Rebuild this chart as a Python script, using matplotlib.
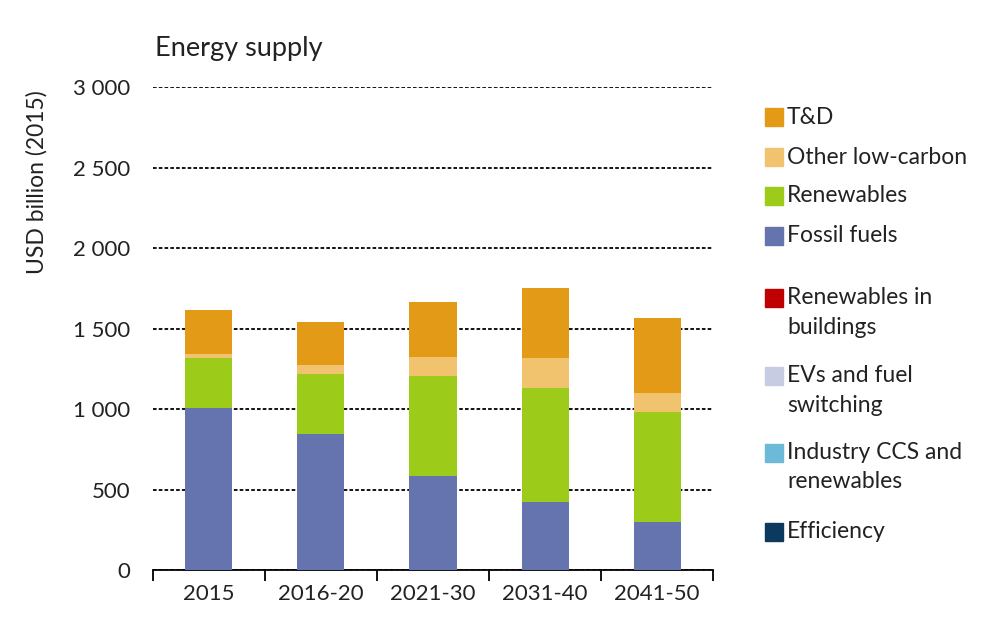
import matplotlib
matplotlib.use('Agg')
import matplotlib.pyplot as plt
import numpy as np
from matplotlib.ticker import FuncFormatter, FixedLocator
from matplotlib.patches import Rectangle

plt.rcParams['font.family'] = ['Lato', 'DejaVu Sans']
plt.rcParams['text.color'] = '#222222'

# data (USD billion, 2015)
periods = ['2015', '2016-20', '2021-30', '2031-40', '2041-50']
fossil = [1010, 848, 585, 420, 300]
renewables = [310, 372, 618, 712, 682]
other_lc = [22, 57, 120, 183, 118]
t_and_d = [273, 266, 340, 440, 464]

stack_names = ['Fossil fuels', 'Renewables', 'Other low-carbon', 'T&D']
stack_colors = ['#6574AE', '#9CCB19', '#F2C36F', '#E39A17']

legend_names = ['T&D', 'Other low-carbon', 'Renewables', 'Fossil fuels',
                'Renewables in\nbuildings', 'EVs and fuel\nswitching',
                'Industry CCS and\nrenewables', 'Efficiency']
legend_colors = ['#E39A17', '#F2C36F', '#9CCB19', '#6574AE',
                 '#C00000', '#C8CCE3', '#6CBAD7', '#0B3A5E']

#~~~~~~~~~~
# PLOTTING
#~~~~~~~~~~
fig = plt.figure(figsize=(9.92, 6.32), dpi=100)
ax = fig.add_axes([0.154, 0.098, 0.565, 0.764])

x = np.arange(len(periods))
bottom = np.zeros(len(periods))
for vals, col in zip([fossil, renewables, other_lc, t_and_d], stack_colors):
	ax.bar(x, vals, width=0.42, bottom=bottom, color=col, zorder=3)
	bottom += np.array(vals)

ax.set_xlim(-0.5, len(periods) - 0.5)
ax.set_ylim(0, 3000)
ax.set_yticks(range(0, 3001, 500))
ax.yaxis.set_major_formatter(FuncFormatter(lambda v, p: '{:,.0f}'.format(v).replace(',', ' ')))
ax.yaxis.grid(True, linestyle=(0, (2, 1.2)), color='black', linewidth=1.3, zorder=0)
ax.set_axisbelow(True)

ax.xaxis.set_major_locator(FixedLocator(np.arange(-0.5, len(periods), 1)))
ax.xaxis.set_major_formatter(FuncFormatter(lambda v, p: ''))
ax.xaxis.set_minor_locator(FixedLocator(x))
ax.set_xticklabels(periods, minor=True)
ax.tick_params(axis='x', which='major', direction='out', length=8, width=1.3)
ax.tick_params(axis='x', which='minor', length=0, labelsize=16, pad=10, labelcolor='#222222')
ax.tick_params(axis='y', length=0, labelsize=16, pad=16, labelcolor='#222222')

for s in ['top', 'right', 'left']:
	ax.spines[s].set_visible(False)
ax.spines['bottom'].set_linewidth(1.3)

fig.text(0.156, 0.924, 'Energy supply', fontsize=19.5, ha='left', va='center')
fig.text(0.037, 0.712, 'USD billion (2015)', fontsize=16.5, rotation=90, ha='center', va='center')

# legend drawn by hand
ys = [117, 157, 196, 236, 298, 376, 453, 532]
for name, col, yp in zip(legend_names, legend_colors, ys):
	fig.patches.append(Rectangle((765 / 992, 1 - (yp + 9) / 632), 18 / 992, 18 / 632,
		transform=fig.transFigure, color=col, figure=fig))
	if '\n' in name:
		fig.text(787 / 992, 1 - (yp - 11) / 632, name, fontsize=16.5, ha='left', va='top', linespacing=1.5)
	else:
		fig.text(787 / 992, 1 - yp / 632, name, fontsize=16.5, ha='left', va='center')

plt.savefig('out.png', dpi=100)
